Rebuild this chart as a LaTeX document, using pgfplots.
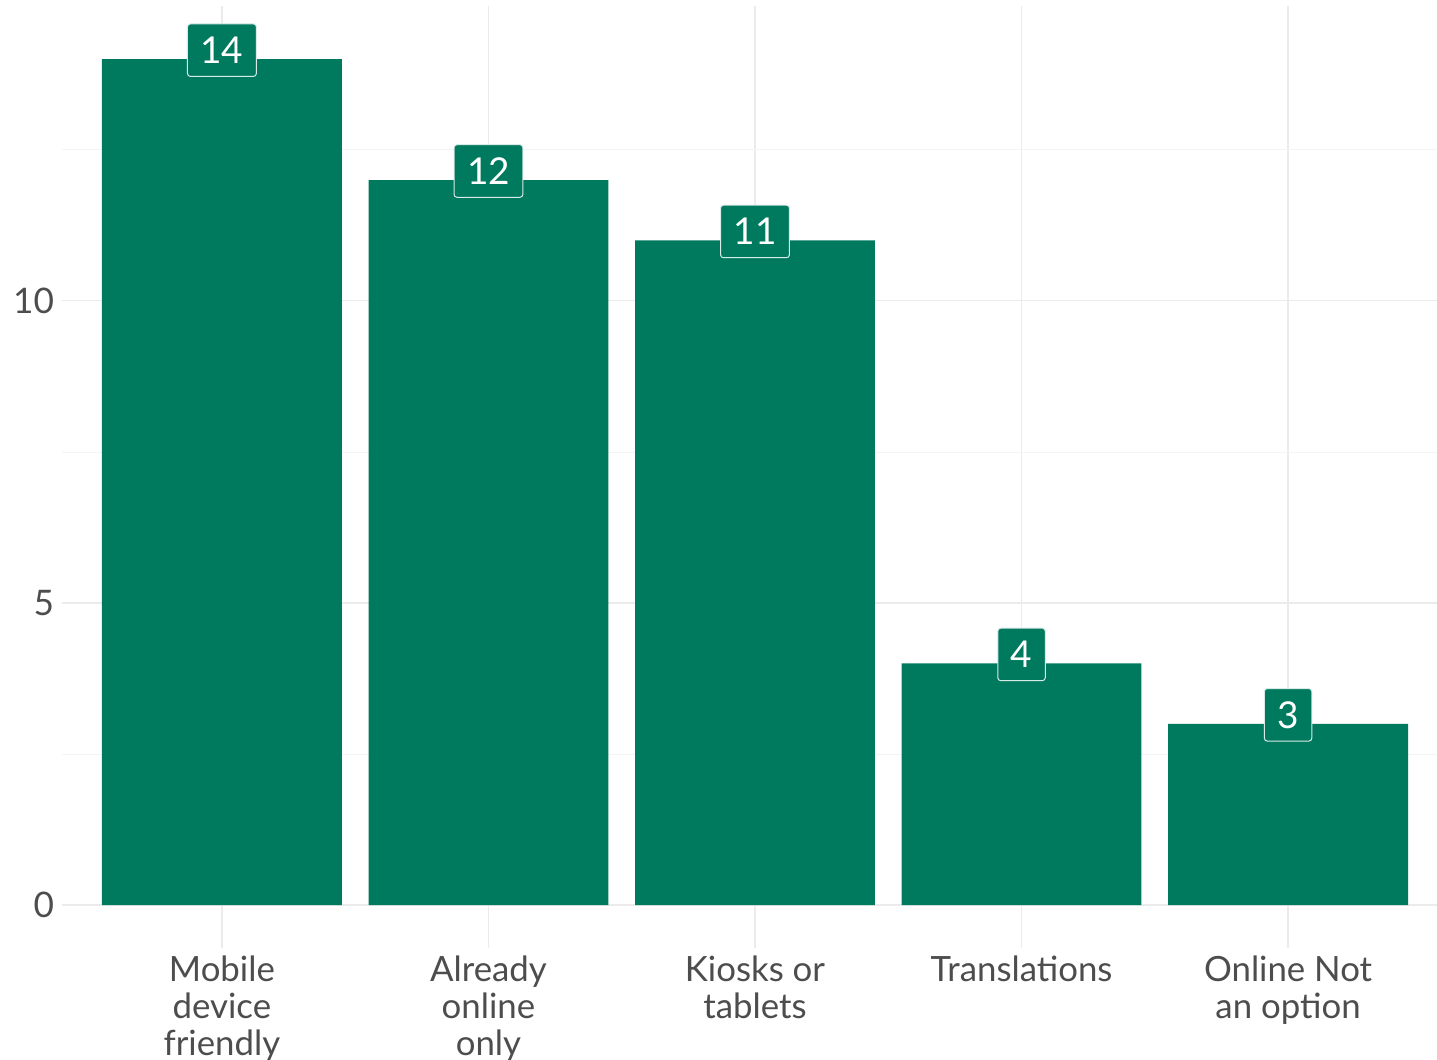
\documentclass[border=0pt]{standalone}
\usepackage{pgfplots}
\pgfplotsset{compat=1.18}
\usepackage{fontspec}
\setmainfont{Lato}
\definecolor{bargreen}{RGB}{0,122,94}
\definecolor{gridc}{RGB}{235,235,235}
\definecolor{minorc}{RGB}{244,244,244}
\definecolor{labc}{RGB}{77,77,77}
\begin{document}
\begin{tikzpicture}
\path[use as bounding box] (0,0) rectangle (718.5pt,530pt);
\clip (0,0) rectangle (718.5pt,530pt);
\begin{axis}[
  at={(31pt,56pt)}, anchor=south west,
  scale only axis, width=693pt, height=471pt,
  xmin=-0.6, xmax=4.6, ymin=-0.71, ymax=14.88,
  axis line style={draw=none},
  major tick length=0pt, minor tick length=0pt,
  xtick={0,1,2,3,4},
  xticklabels={{Mobile\\device\\friendly},{Already\\online\\only},{Kiosks or\\tablets},{Translations},{Online Not\\an option}},
  ytick={0,5,10},
  minor ytick={2.5,7.5,12.5},
  xmajorgrids, ymajorgrids, yminorgrids,
  major grid style={draw=gridc, line width=0.6pt},
  minor grid style={draw=minorc, line width=0.4pt},
  /pgf/number format/assume math mode=true,
  yticklabel style={font=\fontsize{17.6}{20}\selectfont, text=labc, xshift=-0.5pt},
  xticklabel style={font=\fontsize{17.4}{18.5}\selectfont, text=labc, align=center, yshift=-0.5pt},
  bar width=0.9,
  nodes near coords,
  every node near coord/.append style={anchor=center, yshift=4.5pt,
    fill=bargreen, draw=white!85!bargreen, line width=0.5pt, rounded corners=1.5pt,
    text=white, font=\fontsize{18.5}{20}\selectfont,
    inner xsep=6.5pt, inner ysep=6.5pt, text height=13.3pt, text depth=0pt},
  clip=false,
]
\addplot[ybar, fill=bargreen, draw=none] coordinates {(0,14) (1,12) (2,11) (3,4) (4,3)};
\end{axis}
\end{tikzpicture}
\end{document}
